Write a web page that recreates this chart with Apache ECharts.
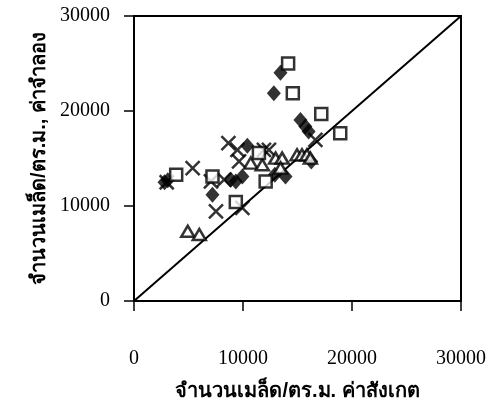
<!DOCTYPE html>
<html><head><meta charset="utf-8">
<script src="https://cdn.jsdelivr.net/npm/echarts@6/dist/echarts.min.js"></script>
<style>html,body{margin:0;padding:0;background:#fff}#c{width:489px;height:419px}</style>
</head><body><div id="c"></div>
<script>
const xTicks = [0, 10000, 20000, 30000];
const yTicks = [0, 10000, 20000, 30000];
const xTitle = 'จำนวนเมล็ด/ตร.ม. ค่าสังเกต';
const yTitle = 'จำนวนเมล็ด/ตร.ม., ค่าจำลอง';

const diamondX = [13440, 12830, 15270, 15720, 16020, 10400, 13900, 12920, 16270, 8880, 9340, 9940, 7200, 2800, 3100];
const diamondY = [24020, 21860, 19060, 18360, 17830, 16330, 13110, 13290, 14690, 12770, 12590, 13110, 11190, 12500, 12700];

const squareX = [14140, 14570, 17180, 18920, 3870, 7200, 9340, 12080, 11460];
const squareY = [25010, 21860, 19690, 17670, 13290, 13110, 10430, 12590, 15580];

const crossX = [16640, 8660, 9490, 9640, 11920, 12380, 5380, 7060, 8270, 7520, 9940, 3000];
const crossY = [16960, 16620, 15910, 14690, 15910, 15910, 13990, 12590, 12770, 9440, 9800, 12500];

const triX = [10710, 11770, 12990, 13590, 13440, 14960, 15410, 15870, 16180, 4930, 5990];
const triY = [14520, 14340, 15040, 15040, 13990, 15390, 15390, 15390, 15040, 7340, 7000];

const lineX = [0, 30000];
const lineY = [0, 30000];

const zip = (a, b) => a.map((v, i) => [v, b[i]]);
const chart = echarts.init(document.getElementById('c'), null, {renderer: 'canvas'});
const axisCommon = {
  type: 'value', min: 0, max: 30000, interval: 10000,
  axisLine: {show: true, lineStyle: {color: '#000', width: 2}},
  axisTick: {show: true, length: 10, lineStyle: {color: '#000', width: 1.5}},
  splitLine: {show: false},
  axisLabel: {color: '#000', fontFamily: 'Liberation Serif', fontSize: 20},
  nameTextStyle: {color: '#000', fontFamily: 'sans-serif', fontSize: 20, fontWeight: 'bold'}
};
chart.setOption({
  animation: false,
  backgroundColor: '#fff',
  grid: {left: 134, right: 26, top: 16, bottom: 118, show: true, borderColor: '#000', borderWidth: 2, backgroundColor: 'transparent'},
  xAxis: Object.assign({}, axisCommon, {
    name: xTitle, nameLocation: 'middle', nameGap: 80,
    axisLabel: Object.assign({}, axisCommon.axisLabel, {margin: 48, formatter: v => xTicks.includes(v) ? String(v) : ''})
  }),
  yAxis: Object.assign({}, axisCommon, {
    name: yTitle, nameLocation: 'middle', nameGap: 82,
    axisLabel: Object.assign({}, axisCommon.axisLabel, {margin: 24, formatter: v => yTicks.includes(v) ? String(v) : ''})
  }),
  series: [
    {type: 'line', data: zip(lineX, lineY), showSymbol: false, symbol: 'none', lineStyle: {color: '#000', width: 2}, z: 1},
    {type: 'scatter', data: zip(diamondX, diamondY), symbol: 'diamond', symbolSize: [14, 16], itemStyle: {color: '#000'}, z: 3},
    {type: 'scatter', data: zip(squareX, squareY), symbol: 'rect', symbolSize: 12, itemStyle: {color: '#fff', borderColor: '#000', borderWidth: 2.5}, z: 4},
    {type: 'scatter', data: zip(crossX, crossY), symbol: 'path://M0,0L10,10M10,0L0,10', symbolSize: 14, itemStyle: {color: 'transparent', borderColor: '#000', borderWidth: 2.5}, z: 3},
    {type: 'scatter', data: zip(triX, triY), symbol: 'triangle', symbolSize: [13, 11], itemStyle: {color: '#fff', borderColor: '#000', borderWidth: 2.5}, z: 3}
  ]
});
</script></body></html>
